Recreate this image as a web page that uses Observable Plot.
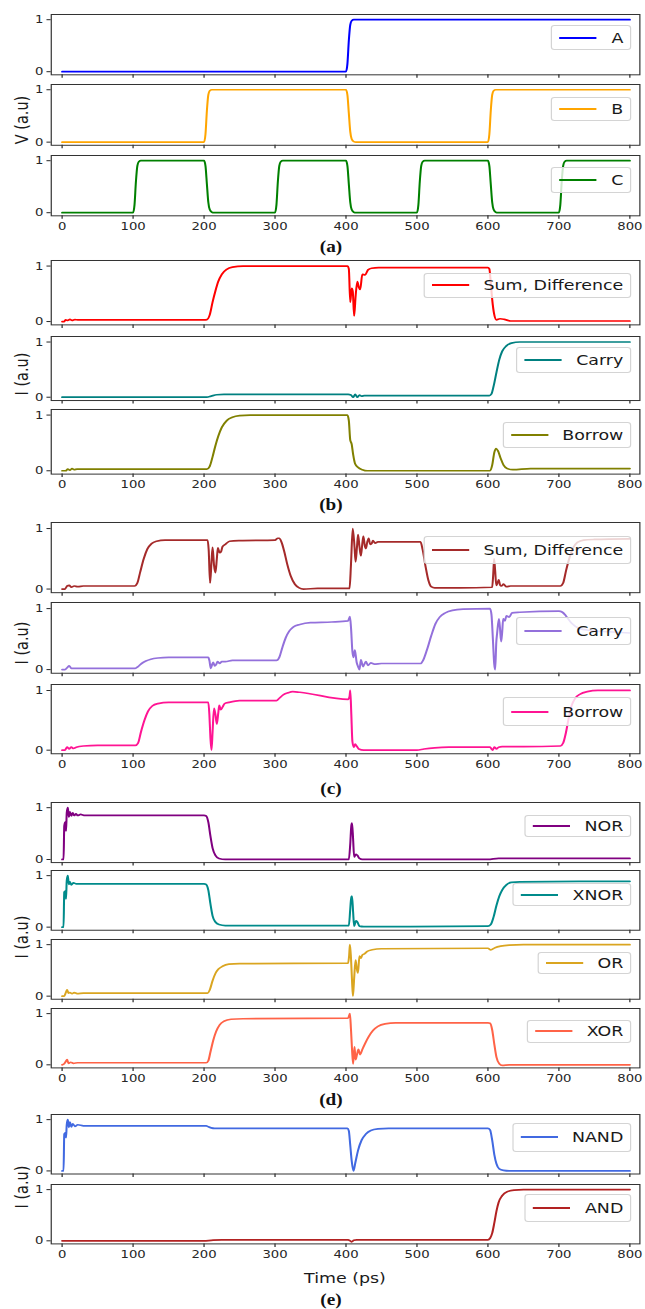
<!DOCTYPE html>
<html><head><meta charset="utf-8">
<script src="https://cdn.jsdelivr.net/npm/d3@7"></script>
<script src="https://cdn.jsdelivr.net/npm/@observablehq/plot@0.6"></script>
<style>
html,body{margin:0;padding:0;background:#fff;}
#fig{position:relative;width:537.5px;height:1309px;transform:scaleX(1.2);transform-origin:0 0;font-family:"DejaVu Sans",sans-serif;color:#222;overflow:visible;}
.panel{position:absolute;left:0;}
.legend{position:absolute;right:11.1px;display:flex;align-items:center;box-sizing:border-box;padding:0 6px;border:1px solid #d4d4d4;border-radius:3px;background:rgba(255,255,255,0.8);font-size:14.5px;white-space:nowrap;color:#1a1a1a;}
.legend .h{display:inline-block;width:31px;height:2px;margin-right:12px;}
.ylab{position:absolute;font-size:14.5px;transform:translate(-50%,-50%) rotate(-90deg);white-space:nowrap;color:#1a1a1a;}
.cap{position:absolute;font-family:"Liberation Serif","Times New Roman",serif;font-weight:bold;font-size:16px;transform:translate(-50%,-50%);white-space:nowrap;color:#111;}
.xlab{position:absolute;font-size:14.5px;transform:translate(-50%,-50%);white-space:nowrap;color:#1a1a1a;}
</style></head>
<body><div id="fig"></div>
<script>
// ---- data ----
const xTicks = [0,100,200,300,400,500,600,700,800];
const yTicks = [0,1];
const groupCaptions = ["(a)","(b)","(c)","(d)","(e)"];
const yLabels = ["V (a.u)","I (a.u)","I (a.u)","I (a.u)","I (a.u)"];
const xLabel = "Time (ps)";

const sA = [[0,0],[400,0],[402,0.15],[404,0.6],[406,0.9],[408,0.98],[411,1],[800,1]];
const sB = [[0,0],[200,0],[202,0.15],[204,0.6],[206,0.9],[208,0.98],[211,1],[400,1],[402,0.9],[404,0.55],[406,0.2],[408,0.06],[411,0.01],[414,0],[600,0],[602,0.15],[604,0.6],[606,0.9],[608,0.98],[611,1],[800,1]];
const sC = [[0,0],[100,0],[102,0.15],[104,0.6],[106,0.9],[108,0.98],[111,1],[200,1],[202,0.9],[204,0.55],[206,0.2],[208,0.06],[211,0.01],[214,0],
  [300,0],[302,0.15],[304,0.6],[306,0.9],[308,0.98],[311,1],[400,1],[402,0.9],[404,0.55],[406,0.2],[408,0.06],[411,0.01],[414,0],
  [500,0],[502,0.15],[504,0.6],[506,0.9],[508,0.98],[511,1],[600,1],[602,0.9],[604,0.55],[606,0.2],[608,0.06],[611,0.01],[614,0],
  [700,0],[702,0.15],[704,0.6],[706,0.9],[708,0.98],[711,1],[800,1]];

const sSumB = [[0,0],[3,0],[5,0.03],[8,0.02],[11,0.04],[14,0.02],[18,0.035],[22,0.03],[200,0.03],[204,0.035],[208,0.12],[212,0.35],[216,0.55],[220,0.72],[225,0.85],[232,0.94],[240,0.98],[255,1.0],[402,1.0],[404,0.95],[406,0.35],[408,0.6],[409.5,0.55],[411.5,0.1],[413.5,0.45],[416,0.72],[418,0.62],[420,0.58],[423,0.85],[427,0.84],[431,0.93],[436,0.96],[446,0.97],[600,0.97],[602,0.95],[604,0.7],[606,0.4],[609,0.12],[612,0.03],[617,0.05],[623,0.04],[632,0.01],[800,0.01]];
const sCarryB = [[0,0],[204,0],[210,0.02],[218,0.045],[228,0.05],[403,0.05],[407,0.04],[410,0],[413,0.05],[416,0],[419,0.04],[422,0.02],[426,0.03],[602,0.03],[605,0.06],[608,0.2],[612,0.45],[616,0.68],[620,0.83],[626,0.93],[633,0.98],[645,1.0],[800,1.0]];
const sBorrowB = [[0,0],[5,0],[8,0.03],[11,0.01],[14,0.04],[17,0.02],[21,0.03],[204,0.03],[208,0.08],[212,0.25],[216,0.45],[220,0.62],[225,0.78],[232,0.9],[240,0.96],[250,0.99],[265,1.0],[402,1.0],[404,0.9],[406,0.55],[408,0.48],[410,0.3],[413,0.12],[417,0.06],[423,0.02],[430,0],[603,0],[606,0.1],[609,0.33],[611.5,0.4],[614,0.36],[618,0.22],[622,0.1],[627,0.04],[635,0.02],[660,0.04],[800,0.04]];

const sSumC = [[0,0],[4,0],[7,0.05],[10,0.06],[13,0.03],[17,0.05],[22,0.04],[30,0.05],[102,0.05],[106,0.1],[110,0.28],[115,0.5],[120,0.66],[126,0.75],[133,0.79],[145,0.81],[205,0.81],[206.5,0.65],[208.5,0.1],[210.5,0.45],[212,0.69],[214,0.4],[216,0.27],[218,0.5],[219.5,0.68],[222,0.6],[224,0.62],[226,0.7],[230,0.74],[236,0.79],[250,0.8],[300,0.81],[304,0.84],[306,0.84],[309,0.78],[313,0.62],[317,0.42],[322,0.22],[328,0.08],[334,0.02],[340,0],[360,0.01],[405,0.01],[407,0.4],[409.5,1.0],[412,0.7],[413.5,0.45],[415.5,0.7],[417,0.9],[419,0.7],[421,0.55],[423,0.75],[424.5,0.87],[426.5,0.72],[428,0.67],[430,0.78],[432,0.84],[434,0.74],[436,0.75],[438,0.8],[441,0.76],[445,0.78],[455,0.78],[505,0.78],[508,0.65],[512,0.38],[516,0.15],[520,0.04],[525,0.02],[560,0.02],[606,0.03],[607.5,0.25],[608.7,0.5],[610.2,0.3],[611.8,0.06],[613.5,0.1],[615.3,0.15],[617,0.07],[619,0.05],[622,0.08],[626,0.04],[632,0.05],[702,0.05],[706,0.1],[710,0.3],[715,0.52],[720,0.68],[726,0.77],[735,0.81],[750,0.82],[800,0.83]];
const sCarryC = [[0,0],[4,0],[7,0.03],[10,0.06],[13,0.02],[17,0.02],[103,0.02],[107,0.05],[112,0.1],[118,0.14],[125,0.17],[135,0.19],[150,0.2],[206,0.2],[207.5,0.15],[209.5,0.02],[211.5,0.09],[213,0.12],[215,0.06],[217,0.08],[219,0.13],[222,0.1],[225,0.13],[230,0.13],[240,0.15],[302,0.15],[306,0.2],[310,0.35],[315,0.52],[320,0.63],[326,0.7],[335,0.74],[350,0.77],[380,0.78],[403,0.8],[405.5,0.87],[407,0.7],[409,0.3],[410.5,0.2],[412.5,0.32],[415,0.12],[417,0.05],[419,0],[421,0.16],[424,0.05],[428,0.13],[431,0.07],[435,0.11],[440,0.09],[450,0.1],[505,0.1],[509,0.16],[514,0.32],[520,0.55],[526,0.75],[532,0.86],[540,0.93],[550,0.97],[565,0.99],[603,1.0],[605,0.9],[607,0.5],[608.8,0.1],[610.2,0],[611.8,0.45],[613,0.6],[615.5,0.83],[617,0.68],[618.6,0.46],[620,0.6],[621.5,0.83],[624,0.8],[626,0.88],[630,0.86],[634,0.93],[645,0.94],[700,0.96],[705,0.94],[710,0.88],[718,0.76],[728,0.68],[745,0.64],[770,0.62],[800,0.6]];
const sBorrowC = [[0,0],[4,0],[7,0.05],[10,0.02],[13,0.05],[16,0.03],[20,0.05],[30,0.07],[50,0.08],[103,0.08],[107,0.12],[111,0.3],[116,0.5],[121,0.65],[127,0.74],[135,0.78],[150,0.8],[206,0.8],[207.5,0.6],[209,0.2],[210.5,0],[212,0.3],[214,0.7],[216,0.6],[218,0.44],[220,0.62],[221.5,0.75],[223.5,0.68],[226,0.72],[229,0.78],[235,0.8],[250,0.83],[302,0.83],[306,0.87],[312,0.93],[318,0.96],[325,0.98],[335,0.97],[403,0.85],[405,0.9],[406,1.0],[407.5,0.6],[409,0.15],[411,0.05],[413,0.1],[415,0.07],[418,0.02],[425,0],[500,0],[510,0.02],[525,0.04],[545,0.05],[603,0.05],[605,0.02],[606.5,0],[609,0.05],[612,0.02],[615,0.05],[620,0.06],[650,0.06],[702,0.07],[706,0.12],[710,0.3],[714,0.55],[718,0.75],[723,0.87],[730,0.94],[740,0.98],[755,1.0],[800,1.0]];

const sNOR = [[0,0],[2,0],[3,0.65],[4.5,0.72],[5.5,0.55],[6.5,0.9],[8,1.0],[9.5,0.82],[11,0.92],[13,0.84],[15,0.9],[17,0.85],[19.5,0.88],[22,0.85],[26,0.87],[32,0.85],[200,0.85],[203,0.84],[206,0.72],[209,0.45],[212,0.22],[216,0.08],[221,0.02],[230,0],[404,0],[406,0.3],[407.5,0.65],[408.5,0.7],[410,0.4],[411.5,0.05],[414,0.1],[416,0.08],[419,0.02],[423,0],[600,0],[615,0.02],[800,0.02]];
const sXNOR = [[0,0],[2,0],[3,0.68],[4.5,0.7],[5.5,0.55],[6.5,0.9],[8,1.0],[9.5,0.83],[11,0.88],[13,0.82],[16,0.86],[20,0.84],[200,0.84],[203,0.83],[206,0.72],[209,0.45],[212,0.22],[216,0.1],[221,0.05],[230,0.03],[404,0.03],[406,0.35],[407.5,0.6],[408.5,0.6],[410,0.3],[411.5,0.02],[414,0.12],[416,0.1],[419,0.02],[425,0.01],[600,0.02],[604,0.05],[608,0.2],[612,0.42],[616,0.6],[620,0.72],[626,0.82],[633,0.87],[645,0.88],[800,0.89]];
const sOR = [[0,0],[3,0],[5,0.06],[7,0.12],[9,0.06],[11,0.07],[14,0.05],[17,0.07],[21,0.05],[30,0.06],[205,0.06],[208,0.12],[212,0.3],[216,0.44],[220,0.52],[226,0.58],[235,0.62],[250,0.63],[403,0.64],[404.5,0.8],[405.5,1.0],[407,0.75],[408.5,0.3],[409.8,0],[411.5,0.35],[413.5,0.7],[415,0.55],[416.8,0.45],[419,0.78],[421,0.74],[423,0.8],[426,0.82],[430,0.87],[437,0.9],[450,0.92],[600,0.93],[604,0.9],[610,0.94],[618,0.97],[630,0.99],[650,1.0],[800,1.0]];
const sXOR = [[0,0],[3,0.02],[5,0.06],[7,0.1],[9,0.03],[12,0.05],[16,0.03],[22,0.04],[203,0.04],[206,0.08],[209,0.25],[213,0.48],[217,0.65],[222,0.78],[228,0.85],[238,0.89],[255,0.9],[403,0.91],[405.5,1.0],[407,0.7],[408.5,0.3],[410,0.02],[412,0.35],[413.5,0.1],[415.5,0.2],[417.5,0.3],[420,0.2],[423,0.3],[427,0.42],[432,0.55],[438,0.67],[445,0.75],[455,0.8],[470,0.82],[600,0.82],[603,0.81],[606,0.68],[609,0.4],[612,0.15],[616,0.02],[620,-0.01],[630,0],[800,0]];

const sNAND = [[0,0],[2,0],[3,0.72],[4.5,0.74],[5.5,0.65],[6.5,0.9],[8,1.0],[9.5,0.85],[11,0.95],[13,0.86],[15,0.92],[18,0.87],[22,0.9],[30,0.88],[203,0.88],[206,0.86],[210,0.84],[215,0.83],[402,0.83],[404,0.78],[406,0.5],[408,0.2],[410.5,0],[413,0.15],[417,0.4],[422,0.6],[428,0.72],[435,0.79],[445,0.82],[460,0.83],[600,0.83],[603,0.8],[606,0.6],[609,0.32],[612,0.14],[616,0.04],[622,0.01],[630,0],[800,0]];
const sAND = [[0,0],[200,0],[210,0.01],[225,0.02],[403,0.02],[406,0],[408,-0.02],[411,0.01],[415,0.02],[600,0.02],[603,0.05],[606,0.15],[609,0.35],[612,0.58],[615,0.75],[620,0.88],[627,0.96],[637,0.99],[650,1.0],[800,1.0]];

const seriesNames = ["A","B","C","Sum, Difference","Carry","Borrow","Sum, Difference","Carry","Borrow","NOR","XNOR","OR","XOR","NAND","AND"];
const seriesData = [sA,sB,sC,sSumB,sCarryB,sBorrowB,sSumC,sCarryC,sBorrowC,sNOR,sXNOR,sOR,sXOR,sNAND,sAND];
const seriesColors = ["#0000ff","#ffa500","#008000","#ff0000","#008080","#808000","#a52a2a","#9370db","#ff1493","#800080","#008b8b","#daa520","#ff6347","#4169e1","#b22222"];
const seriesGroup = [0,0,0,1,1,1,2,2,2,3,3,3,3,4,4];

// ---- layout (pixel geometry, not data) ----
const W = 537.5;               // unstretched width (scaled 1.2x)
const mL = 42.2, mR = 4.75;
const xDomain = [-15.3, 814.1];
const yDomain = [-0.06, 1.1];
const pY1 = [19,89.3,160,265.5,341.5,415,528,608.5,689.8,807,875.5,944.3,1013,1118.7,1189.3];
const pY0 = [71,141.7,212,321,396.7,470.7,588.5,669.5,749.5,858.8,927,995.8,1064.2,1170,1240.5];
const lgTop = [25,96.7,166.7,272.7,346.7,421.7,536,616.7,697.3,815,883.3,951.7,1020,1122.7,1194];
const lgH = [25,24,26,25.6,26,26.6,28,28.3,28.7,21.7,22.7,22.3,22.7,29,27.7];
const capY = [247,505,789,1100,1300];
const capX = 275.8;
const yLabY = [120,374,643,937,1187];

const fig = document.getElementById("fig");
const lastOfGroup = seriesGroup.map((g,i) => seriesGroup[i+1] !== g);

seriesData.forEach((data, i) => {
  const y1 = pY1[i], y0 = pY0[i], r = y0 - y1;
  const ft = y1 - 0.1*r, fb = y0 + 0.06*r;
  const mt = 1, mb = lastOfGroup[i] ? 24 : 6;
  const svg = Plot.plot({
    width: W,
    height: (fb - ft) + mt + mb,
    marginLeft: mL, marginRight: mR, marginTop: mt, marginBottom: mb,
    style: {fontFamily: "DejaVu Sans, sans-serif", fontSize: "11px", color: "#262626", background: "transparent", overflow: "visible"},
    x: {domain: xDomain, ticks: xTicks, tickSize: 3.5, tickPadding: 3, label: null,
        tickFormat: lastOfGroup[i] ? (d => String(d)) : (() => "")},
    y: {domain: yDomain, ticks: yTicks, tickSize: 3.5, tickPadding: 3, label: null, tickFormat: d => String(d)},
    marks: [
      Plot.line(data, {x: d => d[0], y: d => d[1], stroke: seriesColors[i], strokeWidth: 1.7, curve: "monotone-x"}),
      Plot.frame({stroke: "#333", strokeWidth: 1})
    ]
  });
  const wrap = document.createElement("div");
  wrap.className = "panel";
  wrap.style.top = (ft - mt) + "px";
  wrap.appendChild(svg);
  fig.appendChild(wrap);

  const lg = document.createElement("div");
  lg.className = "legend";
  lg.style.top = lgTop[i] + "px";
  lg.style.height = lgH[i] + "px";
  const h = document.createElement("span");
  h.className = "h";
  h.style.backgroundColor = seriesColors[i];
  const t = document.createElement("span");
  t.textContent = seriesNames[i];
  lg.appendChild(h); lg.appendChild(t);
  fig.appendChild(lg);
});

groupCaptions.forEach((c, g) => {
  const d = document.createElement("div");
  d.className = "cap";
  d.style.left = capX + "px";
  d.style.top = capY[g] + "px";
  d.textContent = c;
  fig.appendChild(d);
  const yl = document.createElement("div");
  yl.className = "ylab";
  yl.style.left = "17.5px";
  yl.style.top = yLabY[g] + "px";
  yl.textContent = yLabels[g];
  fig.appendChild(yl);
});

const xl = document.createElement("div");
xl.className = "xlab";
xl.style.left = ((mL + W - mR)/2) + "px";
xl.style.top = "1277.5px";
xl.textContent = xLabel;
fig.appendChild(xl);
</script>
</body></html>
